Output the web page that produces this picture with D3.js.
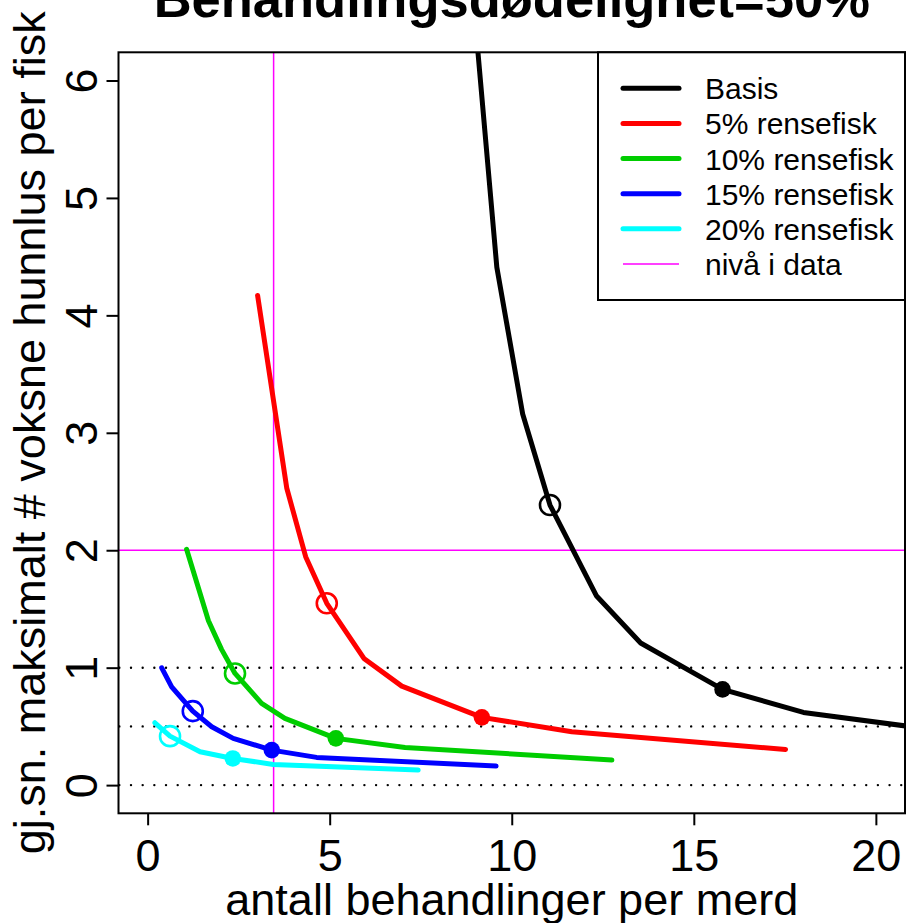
<!DOCTYPE html>
<html>
<head>
<meta charset="utf-8">
<script src="https://cdn.jsdelivr.net/npm/d3@7"></script>
<style>
  html, body { margin: 0; padding: 0; background: #fff; }
  svg { display: block; font-family: "Liberation Sans", Arial, Helvetica, sans-serif; }
</style>
</head>
<body>
<svg id="chart" width="906" height="923"></svg>
<script>
// ---------------- data ----------------
const title = "Behandlingsdødelighet=50%";
const xLabel = "antall behandlinger per merd";
const yLabel = "gj.sn. maksimalt # voksne hunnlus per fisk";

const seriesNames = ["Basis", "5% rensefisk", "10% rensefisk", "15% rensefisk", "20% rensefisk"];
const seriesColors = ["#000000", "#FF0000", "#00CD00", "#0000FF", "#00FFFF"];

const basisX = [8.80, 9.59, 10.30, 11.05, 12.33, 13.54, 15.79, 18.01, 22.0];
const basisY = [7.20, 4.41, 3.16, 2.385, 1.61, 1.21, 0.815, 0.619, 0.455];

const rens5X = [3.02, 3.82, 4.34, 4.92, 5.94, 6.98, 9.18, 11.65, 17.52];
const rens5Y = [4.17, 2.53, 1.945, 1.548, 1.079, 0.843, 0.577, 0.454, 0.304];

const rens10X = [1.07, 1.67, 2.03, 2.40, 3.13, 3.77, 5.17, 7.07, 12.75];
const rens10Y = [2.008, 1.40, 1.156, 0.951, 0.696, 0.568, 0.398, 0.321, 0.213];

const rens15X = [0.387, 0.66, 1.24, 1.76, 2.35, 3.41, 4.64, 9.57];
const rens15Y = [0.999, 0.837, 0.630, 0.497, 0.398, 0.298, 0.236, 0.162];

const rens20X = [0.20, 0.615, 1.44, 2.34, 3.45, 7.43];
const rens20Y = [0.531, 0.417, 0.284, 0.227, 0.176, 0.128];

// index of the point marked with an open circle / filled circle in each series
const openIndex = [3, 3, 3, 2, 1];
const filledIndex = [6, 6, 6, 5, 3];

const dottedLevels = [0, 0.5, 1];
const dataLevelX = 3.46;   // magenta vertical
const dataLevelY = 2;      // magenta horizontal
const dataLevelName = "nivå i data";
const dataLevelColor = "#FF00FF";

const xTicks = [0, 5, 10, 15, 20];
const yTicks = [0, 1, 2, 3, 4, 5, 6];
const xLim = [0, 20];
const yLim = [0, 6];

// ---------------- layout ----------------
const svg = d3.select("#chart");
const plot = { left: 118.5, right: 905, top: 52.3, bottom: 813.3 };
const padX = (xLim[1] - xLim[0]) * 0.04, padY = (yLim[1] - yLim[0]) * 0.04;
const x = d3.scaleLinear().domain([xLim[0] - padX, xLim[1] + padX]).range([plot.left, plot.right]);
const y = d3.scaleLinear().domain([yLim[0] - padY, yLim[1] + padY]).range([plot.bottom, plot.top]);

const seriesX = [basisX, rens5X, rens10X, rens15X, rens20X];
const seriesY = [basisY, rens5Y, rens10Y, rens15Y, rens20Y];
const series = seriesNames.map((name, i) => ({
  name, color: seriesColors[i],
  pts: seriesX[i].map((v, j) => [v, seriesY[i][j]]),
  open: openIndex[i], filled: filledIndex[i]
}));

svg.append("defs").append("clipPath").attr("id", "plotclip")
  .append("rect")
  .attr("x", plot.left).attr("y", plot.top)
  .attr("width", plot.right - plot.left).attr("height", plot.bottom - plot.top);

const g = svg.append("g").attr("clip-path", "url(#plotclip)");

// dotted reference levels
const dotStep = 11.67;
g.selectAll("line.dot").data(dottedLevels).join("line")
  .attr("class", "dot")
  .attr("x1", x.range()[0]).attr("x2", x.range()[1])
  .attr("y1", d => y(d)).attr("y2", d => y(d))
  .attr("stroke", "#000").attr("stroke-width", 2.4)
  .attr("stroke-linecap", "round")
  .attr("stroke-dasharray", `0.01 ${dotStep - 0.01}`)
  .attr("stroke-dashoffset", -0.83);

// magenta data level lines
g.append("line")
  .attr("x1", x(dataLevelX)).attr("x2", x(dataLevelX))
  .attr("y1", y.range()[0]).attr("y2", y.range()[1])
  .attr("stroke", dataLevelColor).attr("stroke-width", 1.5);
g.append("line")
  .attr("x1", x.range()[0]).attr("x2", x.range()[1])
  .attr("y1", y(dataLevelY)).attr("y2", y(dataLevelY))
  .attr("stroke", dataLevelColor).attr("stroke-width", 1.5);

// series lines
const line = d3.line().x(d => x(d[0])).y(d => y(d[1]));
g.selectAll("path.series").data(series).join("path")
  .attr("class", "series")
  .attr("d", d => line(d.pts))
  .attr("fill", "none")
  .attr("stroke", d => d.color)
  .attr("stroke-width", 5)
  .attr("stroke-linejoin", "round")
  .attr("stroke-linecap", "round");

// markers
g.selectAll("circle.open").data(series).join("circle")
  .attr("class", "open")
  .attr("cx", d => x(d.pts[d.open][0]))
  .attr("cy", d => y(d.pts[d.open][1]))
  .attr("r", 10)
  .attr("fill", "none")
  .attr("stroke", d => d.color)
  .attr("stroke-width", 2.6);
g.selectAll("circle.filled").data(series).join("circle")
  .attr("class", "filled")
  .attr("cx", d => x(d.pts[d.filled][0]))
  .attr("cy", d => y(d.pts[d.filled][1]))
  .attr("r", 8.3)
  .attr("fill", d => d.color);

// plot box
svg.append("rect")
  .attr("x", plot.left).attr("y", plot.top)
  .attr("width", plot.right - plot.left).attr("height", plot.bottom - plot.top)
  .attr("fill", "none").attr("stroke", "#000").attr("stroke-width", 2);

// axes
const fontSize = 45;
const xAxis = svg.append("g")
  .attr("transform", `translate(0,${plot.bottom})`)
  .call(d3.axisBottom(x).tickValues(xTicks).tickSize(12).tickFormat(d3.format("d")));
xAxis.select(".domain").remove();
xAxis.selectAll(".tick line").attr("stroke", "#000").attr("stroke-width", 2);
xAxis.selectAll(".tick text")
  .attr("y", 57.7).attr("dy", null)
  .attr("font-size", fontSize).attr("fill", "#000")
  .attr("font-family", "Liberation Sans, Arial, sans-serif");

const yAxis = svg.append("g")
  .attr("transform", `translate(${plot.left},0)`)
  .call(d3.axisLeft(y).tickValues(yTicks).tickSize(12).tickFormat(d3.format("d")));
yAxis.select(".domain").remove();
yAxis.selectAll(".tick line").attr("stroke", "#000").attr("stroke-width", 2);
yAxis.selectAll(".tick text")
  .attr("x", null).attr("dy", null)
  .attr("transform", "translate(-21.5,0) rotate(-90)")
  .attr("text-anchor", "middle")
  .attr("font-size", fontSize).attr("fill", "#000")
  .attr("font-family", "Liberation Sans, Arial, sans-serif");

// titles
const cx = (plot.left + plot.right) / 2, cy = (plot.top + plot.bottom) / 2;
svg.append("text")
  .attr("x", cx).attr("y", 17)
  .attr("text-anchor", "middle")
  .attr("font-size", 52.5).attr("font-weight", "bold")
  .text(title);
svg.append("text")
  .attr("x", cx).attr("y", 915)
  .attr("text-anchor", "middle")
  .attr("font-size", fontSize)
  .text(xLabel);
svg.append("text")
  .attr("transform", `translate(45,${cy}) rotate(-90)`)
  .attr("text-anchor", "middle")
  .attr("font-size", fontSize)
  .text(yLabel);

// legend
const legendItems = series.map(s => ({ name: s.name, color: s.color, w: 5 }))
  .concat([{ name: dataLevelName, color: dataLevelColor, w: 1.5 }]);
const leg = { left: 598, top: plot.top, bottom: 300, right: plot.right };
svg.append("rect")
  .attr("x", leg.left).attr("y", leg.top)
  .attr("width", leg.right - leg.left).attr("height", leg.bottom - leg.top)
  .attr("fill", "#fff").attr("stroke", "#000").attr("stroke-width", 2);
const rowY = d3.scaleLinear().domain([0, 5]).range([88.3, 264]);
const lg = svg.append("g");
lg.selectAll("line").data(legendItems).join("line")
  .attr("x1", 623).attr("x2", 679)
  .attr("y1", (d, i) => rowY(i)).attr("y2", (d, i) => rowY(i))
  .attr("stroke", d => d.color)
  .attr("stroke-width", d => d.w)
  .attr("stroke-linecap", d => d.w > 2 ? "round" : "butt");
lg.selectAll("text").data(legendItems).join("text")
  .attr("x", 705).attr("y", (d, i) => rowY(i) + 11)
  .attr("font-size", 30)
  .text(d => d.name);
</script>
</body>
</html>
